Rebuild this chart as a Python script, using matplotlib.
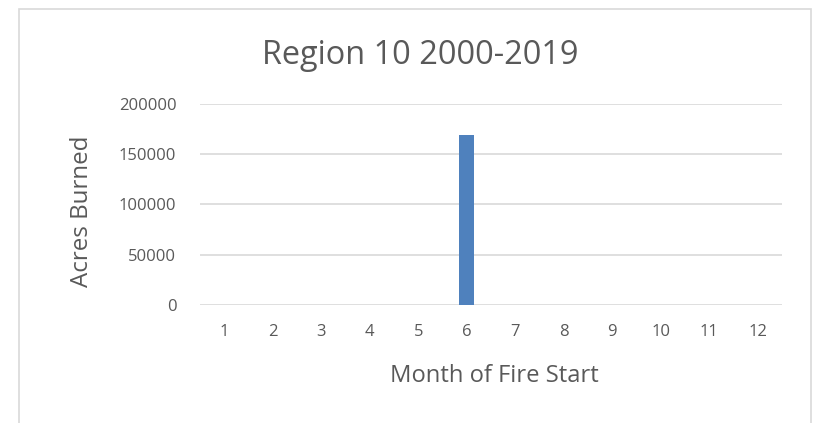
import matplotlib
matplotlib.use("Agg")
import matplotlib.pyplot as plt
from matplotlib.patches import Rectangle

months = ["1", "2", "3", "4", "5", "6", "7", "8", "9", "10", "11", "12"]
acres = [0, 0, 0, 0, 0, 169000, 0, 0, 0, 0, 0, 0]
yticks = [0, 50000, 100000, 150000, 200000]

W, H = 821, 423
fig = plt.figure(figsize=(W / 100, H / 100), dpi=100)
plt.rcParams['font.family'] = ['Open Sans', 'DejaVu Sans']
txt = '#595959'

# outer chart border
fig.patches.append(Rectangle((19 / W, -0.1), (811 - 19) / W, 1.1 - 9 / H,
                             transform=fig.transFigure, fill=False,
                             edgecolor='#D9D9D9', linewidth=1.2))

ax = fig.add_axes([200 / W, 1 - 305 / H, (782 - 200) / W, (305 - 104) / H])
x = list(range(len(months)))
ax.bar(x, acres, width=0.3, color='#4F81BD', zorder=3)
ax.set_xlim(-0.5, len(months) - 0.5)
ax.set_ylim(0, 200000)
ax.set_yticks(yticks)
ax.set_yticklabels([str(v) for v in yticks])
ax.set_xticks(x)
ax.set_xticklabels(months)
ax.yaxis.grid(True, color='#D9D9D9', linewidth=1.2, zorder=0)
for s in ax.spines.values():
    s.set_visible(False)
ax.tick_params(length=0, labelsize=12, colors=txt, pad=14)
ax.tick_params(axis='y', pad=17)

renderer = fig.canvas.get_renderer()


def fitted_text(cx, cy, s, target, rot=0):
    t = fig.text(cx / W, 1 - cy / H, s, ha='center', va='center',
                 rotation=rot, fontsize=12, color=txt)
    bb = t.get_window_extent(renderer)
    length = bb.width if rot == 0 else bb.height
    t.set_fontsize(12 * target / length)
    return t


fitted_text(420, 55, "Region 10 2000-2019", 316)
fitted_text(82, 211, "Acres Burned", 150, rot=90)
fitted_text(494, 376, "Month of Fire Start", 208)

fig.savefig("out.png", dpi=100)
